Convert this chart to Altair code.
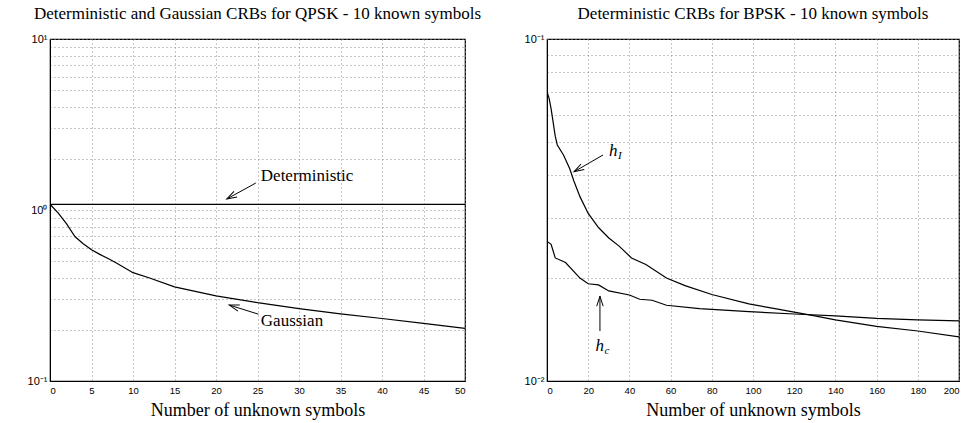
import altair as alt
import pandas as pd

# ---------------- Left panel: QPSK ----------------
qpsk_unknown = [0, 1, 2, 3, 4, 5, 6, 7, 8, 10, 12, 15, 20, 25, 30, 35, 40, 45, 50]
gaussian_crb = [1.08, 0.96, 0.83, 0.70, 0.635, 0.585, 0.55, 0.52, 0.49, 0.43, 0.40,
                0.355, 0.315, 0.287, 0.265, 0.247, 0.232, 0.217, 0.203]
deterministic_unknown = [0, 50]
deterministic_crb = [1.08, 1.08]

# ---------------- Right panel: BPSK ----------------
hI_unknown = [0, 1, 2, 4, 5, 8, 11, 13, 16, 20, 25, 30, 35, 41, 48, 58, 67, 80, 98,
              110, 120, 130, 140, 160, 180, 200]
hI_crb = [0.0700, 0.0672, 0.0625, 0.0520, 0.0490, 0.0458, 0.0418, 0.0385, 0.0346,
          0.0309, 0.0281, 0.0262, 0.0248, 0.0229, 0.0219, 0.0200, 0.0190, 0.0179,
          0.0168, 0.0163, 0.0159, 0.0155, 0.0151, 0.01445, 0.0140, 0.01345]
hc_unknown = [0, 2, 4, 9, 16, 20, 25, 30, 40, 45, 51, 58, 74, 98, 120, 140, 160, 180, 200]
hc_crb = [0.0256, 0.0251, 0.0229, 0.0222, 0.0200, 0.01925, 0.0191, 0.01834, 0.01784,
          0.01734, 0.01722, 0.01665, 0.01628, 0.01595, 0.0157, 0.0155, 0.01525,
          0.0151, 0.0150]

# ---------------- Axes ----------------
left_x_ticks = [0, 5, 10, 15, 20, 25, 30, 35, 40, 45, 50]
right_x_ticks = [0, 20, 40, 60, 80, 100, 120, 140, 160, 180, 200]
left_y_grid = [0.1, 0.2, 0.3, 0.4, 0.5, 0.6, 0.7, 0.8, 0.9,
               1, 2, 3, 4, 5, 6, 7, 8, 9, 10]
right_y_grid = [0.01, 0.02, 0.03, 0.04, 0.05, 0.06, 0.07, 0.08, 0.09, 0.1]
left_y_labels = {0.1: "10⁻¹", 1: "10⁰", 10: "10¹"}
right_y_labels = {0.01: "10⁻²", 0.1: "10⁻¹"}

left_title = "Deterministic and Gaussian CRBs for QPSK - 10 known symbols"
right_title = "Deterministic CRBs for BPSK - 10 known symbols"
x_title = "Number of unknown symbols"

# ---------------- Annotations ----------------
left_note_text = ["Deterministic", "Gaussian"]
left_note_x = [25.4, 25.4]
left_note_y = [1.58, 0.224]
left_arrow_tail_x = [24.8, 25.1]
left_arrow_tail_y = [1.438, 0.246]
left_arrow_tip_x = [21.3, 21.6]
left_arrow_tip_y = [1.16, 0.278]
left_arrow_angle = [151, 197]

right_note_sub = ["I", "c"]
right_note_x = [30.1, 23.6]
right_note_y = [0.0470, 0.01265]
right_arrow_tail_x = [27.2, 25.7]
right_arrow_tail_y = [0.0458, 0.0140]
right_arrow_tip_x = [13.1, 25.7]
right_arrow_tip_y = [0.0409, 0.0177]
right_arrow_angle = [150, 270]

SERIF = "Liberation Serif"
SANS = "Liberation Sans"
GRID = dict(grid=True, gridDash=[1, 3], gridColor="#8c8c8c", gridWidth=1,
            gridOpacity=1, ticks=False, domainColor="black",
            labelFont=SANS, labelColor="black")


def label_expr(labels):
    expr = "''"
    for v, t in labels.items():
        expr = f"abs(datum.value - {v}) < {v * 1e-6} ? '{t}' : " + expr
    return expr


def panel(lines_df, x_dom, x_ticks, y_dom, y_grid, y_labels, title, w,
          notes_df, arrows_df, sub_df=None, italic=False):
    xs = alt.Scale(domain=x_dom, nice=False, zero=False)
    ys = alt.Scale(type="log", domain=y_dom, nice=False)
    xax = alt.Axis(values=x_ticks, title=x_title, titleFont=SERIF, titleFontSize=18,
                   titleFontWeight="normal", titleColor="black", titlePadding=7,
                   labelPadding=4, labelFontSize=9.5, **GRID)
    yax = alt.Axis(values=y_grid, title=None, labelExpr=label_expr(y_labels),
                   labelPadding=3, labelOverlap=False, labelFontSize=11, **GRID)

    lines = alt.Chart(lines_df).mark_line(color="black", strokeWidth=1.2, clip=True).encode(
        x=alt.X("n:Q", scale=xs, axis=xax),
        y=alt.Y("crb:Q", scale=ys, axis=yax),
        detail="series:N",
        order="n:Q",
    )
    rules = alt.Chart(arrows_df).mark_rule(color="black", strokeWidth=1).encode(
        x="tx:Q", y="ty:Q", x2="hx:Q", y2="hy:Q"
    )
    heads = alt.Chart(arrows_df).mark_point(
        shape="M-1,-0.32L0,0L-1,0.32", filled=False, color="black",
        strokeWidth=1, size=400, opacity=1
    ).encode(x="hx:Q", y="hy:Q", angle=alt.Angle("ang:Q", scale=None))
    texts = alt.Chart(notes_df).mark_text(
        align="left", baseline="middle", font=SERIF, fontSize=17, color="black",
        fontStyle="italic" if italic else "normal"
    ).encode(x="x:Q", y="y:Q", text="t:N")
    layers = [lines, rules, heads, texts]
    if sub_df is not None:
        subs = alt.Chart(sub_df).mark_text(
            align="left", baseline="middle", font=SERIF, fontSize=11, color="black",
            fontStyle="italic", dx=9, dy=5
        ).encode(x="x:Q", y="y:Q", text="t:N")
        layers.append(subs)
    return alt.layer(*layers).properties(
        width=w, height=342,
        title=alt.TitleParams(title, font=SERIF, fontSize=17, fontWeight="normal",
                              color="black", offset=10, anchor="middle"),
    )


left_lines = pd.concat([
    pd.DataFrame({"n": deterministic_unknown, "crb": deterministic_crb, "series": "Deterministic"}),
    pd.DataFrame({"n": qpsk_unknown, "crb": gaussian_crb, "series": "Gaussian"}),
])
right_lines = pd.concat([
    pd.DataFrame({"n": hI_unknown, "crb": hI_crb, "series": "hI"}),
    pd.DataFrame({"n": hc_unknown, "crb": hc_crb, "series": "hc"}),
])

left_notes = pd.DataFrame({"x": left_note_x, "y": left_note_y, "t": left_note_text})
left_arrows = pd.DataFrame({"tx": left_arrow_tail_x, "ty": left_arrow_tail_y,
                            "hx": left_arrow_tip_x, "hy": left_arrow_tip_y,
                            "ang": left_arrow_angle})
right_notes = pd.DataFrame({"x": right_note_x, "y": right_note_y, "t": ["h", "h"]})
right_subs = pd.DataFrame({"x": right_note_x, "y": right_note_y, "t": right_note_sub})
right_arrows = pd.DataFrame({"tx": right_arrow_tail_x, "ty": right_arrow_tail_y,
                             "hx": right_arrow_tip_x, "hy": right_arrow_tip_y,
                             "ang": right_arrow_angle})

left = panel(left_lines, [0, 50], left_x_ticks, [0.1, 10], left_y_grid, left_y_labels,
             left_title, 415, left_notes, left_arrows)
right = panel(right_lines, [0, 200], right_x_ticks, [0.01, 0.1], right_y_grid, right_y_labels,
              right_title, 412, right_notes, right_arrows, sub_df=right_subs, italic=True)

chart = alt.hconcat(left, right, spacing=82, bounds="flush").resolve_scale(
    x="independent", y="independent"
).properties(
    padding={"left": 26, "top": 4, "right": 0, "bottom": 4},
    background="white",
).configure_view(stroke="black", strokeWidth=1.2)

chart.save("out.html", embed_options={"renderer": "svg", "actions": False})
